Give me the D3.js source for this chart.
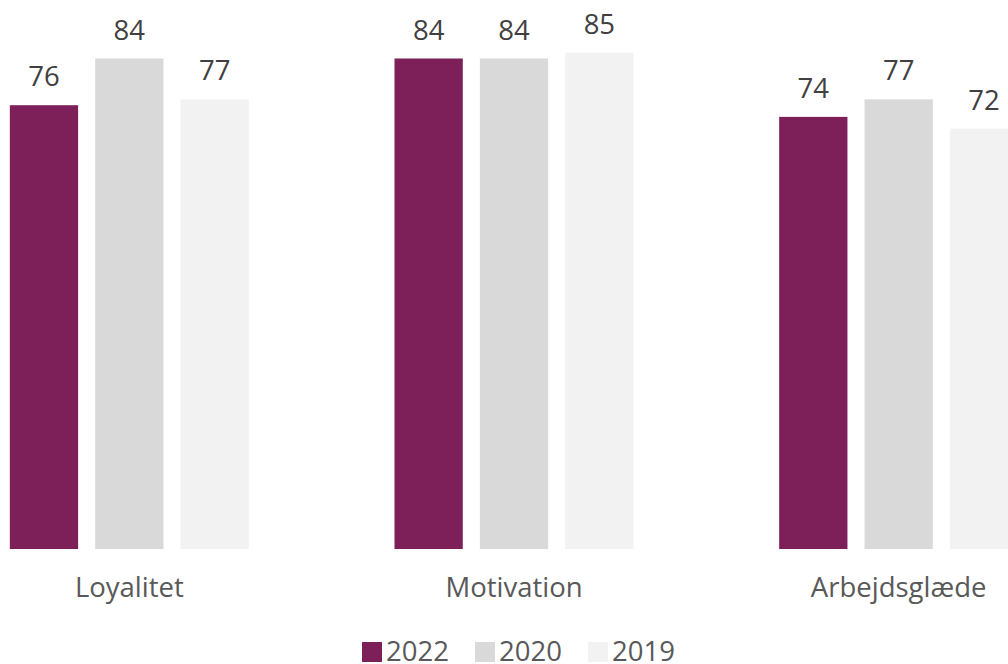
<!DOCTYPE html>
<html>
<head>
<meta charset="utf-8">
<script src="https://cdn.jsdelivr.net/npm/d3@7"></script>
<style>
  html, body { margin: 0; padding: 0; background: #fff; }
  svg { display: block; font-family: "Open Sans", sans-serif; }
</style>
</head>
<body>
<div class="chart"></div>
<script>
var categories = ["Loyalitet", "Motivation", "Arbejdsglæde"];
var seriesNames = ["2022", "2020", "2019"];
var values2022 = [76, 84, 74];
var values2020 = [84, 84, 77];
var values2019 = [77, 85, 72];
var seriesColors = ["#7d1f59", "#d9d9d9", "#f2f2f2"];

var width = 1008;
var height = 664;
var baseline = 549;
var fontSize = 27.5;

var seriesValues = [values2022, values2020, values2019];

// groups are wider than the window, so the outer bars are cut off like the original
var x0 = d3.scaleBand().domain(categories).range([-63, 1091]);
var x1 = d3.scaleBand().domain(seriesNames).range([0, 239]).paddingInner(0.2);
var y = d3.scaleLinear().domain([0, 84]).range([baseline, 58.5]);
var color = d3.scaleOrdinal().domain(seriesNames).range(seriesColors);

var svg = d3
  .select(".chart")
  .append("svg")
  .attr("width", width)
  .attr("height", height);

var rows = [];
categories.forEach(function(c, i) {
  seriesNames.forEach(function(s, j) {
    rows.push({ category: c, series: s, value: seriesValues[j][i] });
  });
});

function groupLeft(c) {
  return x0(c) + x0.bandwidth() / 2 - 119.5;
}

svg
  .selectAll("rect.bar")
  .data(rows)
  .enter()
  .append("rect")
  .attr("class", "bar")
  .attr("x", function(d) { return groupLeft(d.category) + x1(d.series); })
  .attr("y", function(d) { return y(d.value); })
  .attr("width", x1.bandwidth())
  .attr("height", function(d) { return baseline - y(d.value); })
  .attr("fill", function(d) { return color(d.series); });

// value labels
svg
  .selectAll("text.value")
  .data(rows)
  .enter()
  .append("text")
  .attr("class", "value")
  .attr("x", function(d) { return groupLeft(d.category) + x1(d.series) + x1.bandwidth() / 2; })
  .attr("y", function(d) { return y(d.value) - 19; })
  .attr("text-anchor", "middle")
  .attr("font-size", fontSize)
  .attr("fill", "#404040")
  .text(function(d) { return d.value; });

// category axis without line or ticks
var xAxis = svg
  .append("g")
  .attr("transform", "translate(0," + baseline + ")")
  .call(d3.axisBottom(x0).tickSize(0).tickPadding(0));
xAxis.select(".domain").remove();
xAxis
  .selectAll("text")
  .attr("dy", 0)
  .attr("y", 48)
  .attr("font-size", fontSize)
  .attr("font-family", "Open Sans, sans-serif")
  .attr("fill", "#595959");

// legend
var legend = svg
  .selectAll("g.legend")
  .data(seriesNames)
  .enter()
  .append("g")
  .attr("class", "legend")
  .attr("transform", function(d, i) { return "translate(" + (362 + i * 113) + ",642)"; });

legend
  .append("rect")
  .attr("width", 20)
  .attr("height", 20)
  .attr("fill", function(d) { return color(d); });

legend
  .append("text")
  .attr("x", 24)
  .attr("y", 18.5)
  .attr("font-size", fontSize)
  .attr("fill", "#595959")
  .text(function(d) { return d; });
</script>
</body>
</html>
